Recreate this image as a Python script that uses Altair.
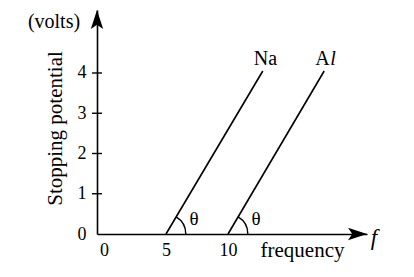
import math
import altair as alt
import pandas as pd

# ---- data ----
metals = ["Na", "Al"]
threshold = [5, 10]          # frequency where stopping potential = 0
top_freq = [12.8, 17.75]     # frequency at upper end of each line
top_volt = [4.05, 4.05]      # stopping potential at upper end
label_main = ["Na", "A"]
label_italic = ["", "l"]

y_tick_values = [0, 1, 2, 3, 4]
y_cross_ticks = [1, 2, 3, 4]
x_tick_values = [0, 5, 10]

# ---- layout ----
X_DOM = [-0.56, 21.2]
Y_DOM = [0, 5.565]
W, H = 270, 224
PAD = {"left": 97, "top": 10, "right": 414 - 97 - W, "bottom": 277 - 10 - H}
FONT = "Liberation Serif"

lines = pd.DataFrame({
    "metal": metals + metals,
    "f": threshold + top_freq,
    "v": [0, 0] + top_volt,
})
tops = pd.DataFrame({"metal": metals, "f": top_freq, "v": top_volt,
                     "main": label_main, "ital": label_italic})
bases = pd.DataFrame({"metal": metals, "f": threshold, "v": [0, 0]})
crosses = pd.DataFrame({"v": y_cross_ticks})
one = pd.DataFrame({"a": [0]})

xscale = alt.Scale(domain=X_DOM, nice=False, zero=False)
yscale = alt.Scale(domain=Y_DOM, nice=False, zero=False)

x_axis = alt.Axis(values=x_tick_values, ticks=False, grid=False, domainColor="black",
                  domainWidth=1.6, labelFont=FONT, labelFontSize=18, labelColor="black",
                  labelPadding=7, title="frequency", titleFont=FONT, titleFontSize=21,
                  titleFontWeight="normal", titleColor="black", titleX=205, titleY=16,
                  titleAlign="center", titleBaseline="middle", labelFlush=False)
y_axis = alt.Axis(values=y_tick_values, ticks=False, grid=False, domainColor="black",
                  domainWidth=1.6, labelFont=FONT, labelFontSize=18, labelColor="black",
                  labelPadding=11, title="Stopping potential", titleFont=FONT,
                  titleFontSize=21, titleFontWeight="normal", titleColor="black",
                  titleX=-42, titleY=118, titleAlign="center", titleBaseline="middle",
                  labelFlush=False)


def X():
    return alt.X("f:Q", scale=xscale, axis=x_axis)


def Y():
    return alt.Y("v:Q", scale=yscale, axis=y_axis)


line_layer = alt.Chart(lines).mark_line(color="black", strokeWidth=1.6).encode(
    x=X(), y=Y(), detail="metal:N")

# angle of the lines on screen, for the theta arcs
px_x = W / (X_DOM[1] - X_DOM[0])
px_y = H / (Y_DOM[1] - Y_DOM[0])
ang = math.atan2((top_freq[0] - threshold[0]) * px_x, top_volt[0] * px_y)

arcs = alt.Chart(bases).mark_arc(theta=ang, theta2=math.pi / 2, radius=20.5,
                                 radius2=19.1, color="black").encode(x=X(), y=Y())

thetas = alt.Chart(bases).mark_text(text="θ", font=FONT, fontSize=19, dx=28, dy=-15,
                                    color="black").encode(x=X(), y=Y())

names = alt.Chart(tops).mark_text(font=FONT, fontSize=20, align="left", dx=-9, dy=-12,
                                  color="black").encode(x=X(), y=Y(), text="main:N")
names_it = alt.Chart(tops).mark_text(font=FONT, fontSize=20, align="left", dx=6, dy=-12,
                                     fontStyle="italic", color="black").encode(
    x=X(), y=Y(), text="ital:N")

cross = alt.Chart(crosses).mark_rule(color="black", strokeWidth=1.4).encode(
    x=alt.value(-5), x2=alt.value(5), y=Y())

ARROW = "M0,-1L0.65,1L0,0.55L-0.65,1Z"
arrow_y = alt.Chart(one).mark_point(shape=ARROW, size=361, filled=True, color="black",
                                    opacity=1).encode(x=alt.value(0), y=alt.value(9.5))
arrow_x = alt.Chart(one).mark_point(shape=ARROW, size=361, filled=True, color="black",
                                    opacity=1, angle=90).encode(
    x=alt.value(W - 9.5), y=alt.value(H))

volts = alt.Chart(one).mark_text(text="(volts)", font=FONT, fontSize=20, color="black",
                                 align="center", baseline="middle").encode(
    x=alt.value(-43), y=alt.value(12))
f_lab = alt.Chart(one).mark_text(text="f", font=FONT, fontSize=23, fontStyle="italic",
                                 color="black", align="center", baseline="middle").encode(
    x=alt.value(277), y=alt.value(228))

chart = alt.layer(line_layer, arcs, thetas, names, names_it, cross, arrow_y, arrow_x,
                  volts, f_lab).properties(
    width=W, height=H, padding=PAD, autosize=alt.AutoSizeParams(type="none"),
    background="white",
).configure_view(stroke=None)

chart.save("out.html", embed_options={"renderer": "svg", "actions": False})
